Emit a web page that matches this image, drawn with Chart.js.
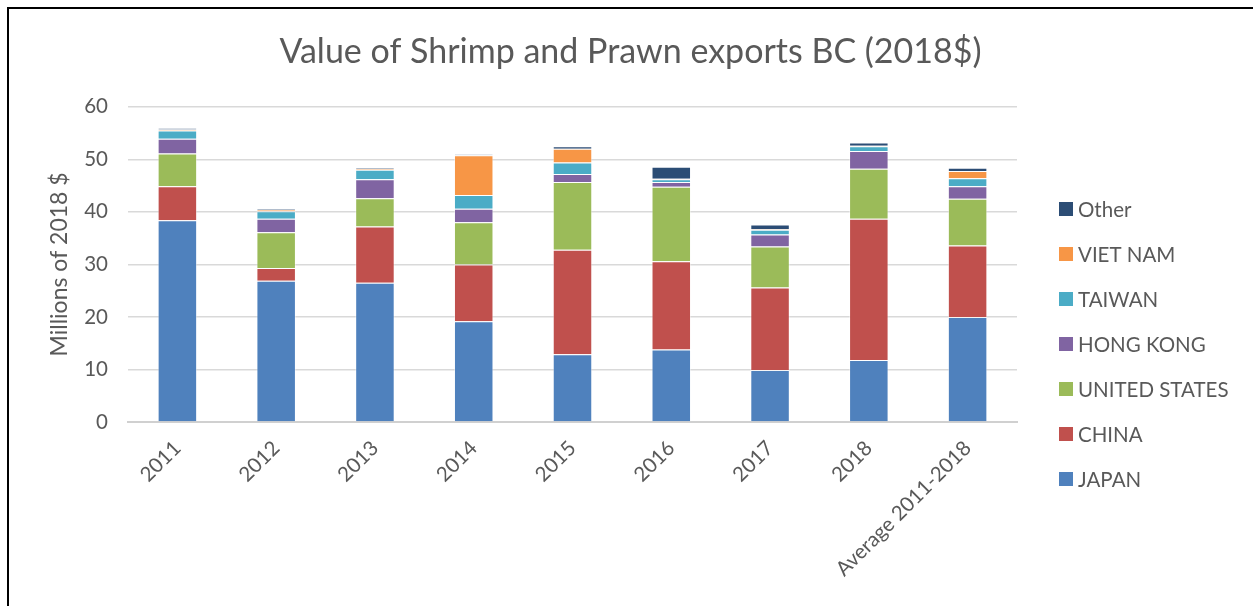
<!DOCTYPE html>
<html>
<meta charset="utf-8">
<head>
    <title>Shrimp and Prawn exports BC</title>
    <script src="https://cdn.jsdelivr.net/npm/chart.js@4/dist/chart.umd.min.js"></script>
    <style>
    body {
        margin: 0;
        overflow: hidden;
        background: #fff;
    }
    .moldura {
        position: absolute;
        left: 7px;
        top: 7px;
        width: 1400px;
        height: 800px;
        border-left: 2px solid #000;
        border-top: 2px solid #000;
    }
    canvas {
        position: absolute;
        left: 0;
        top: 0;
    }
    </style>
</head>

<body>
    <div class="moldura"></div>
    <canvas id="exportacoes" width="1253" height="606"></canvas>

    <script>
        var anos = ['2011', '2012', '2013', '2014', '2015', '2016', '2017', '2018', 'Average 2011-2018'];

        // millions of 2018 dollars, per destination
        var japan = [38.4, 26.9, 26.5, 19.2, 12.9, 13.8, 9.9, 11.8, 20.0];
        var china = [6.5, 2.4, 10.7, 10.8, 19.9, 16.8, 15.7, 26.9, 13.6];
        var unitedStates = [6.2, 6.8, 5.4, 8.0, 12.9, 14.2, 7.8, 9.5, 8.9];
        var hongKong = [2.8, 2.6, 3.6, 2.6, 1.5, 0.9, 2.3, 3.4, 2.4];
        var taiwan = [1.6, 1.4, 1.8, 2.6, 2.2, 0.5, 0.9, 0.9, 1.5];
        var vietNam = [0.2, 0.3, 0.2, 7.6, 2.6, 0.1, 0.1, 0.1, 1.4];
        var other = [0.2, 0.2, 0.2, 0.1, 0.5, 2.3, 0.9, 0.6, 0.6];

        var yTicks = [0, 10, 20, 30, 40, 50, 60];

        var fonte = 'Lato, "Open Sans", sans-serif';
        var cinza = '#595959';

        function serie(nome, valores, cor) {
            return {
                label: nome,
                data: valores,
                backgroundColor: cor,
                borderColor: 'rgba(255,255,255,0.45)',
                borderWidth: 1,
                barPercentage: 0.4,
                categoryPercentage: 1.0
            };
        }

        var dados = {
            labels: anos,
            datasets: [
                serie('JAPAN', japan, '#4F81BD'),
                serie('CHINA', china, '#C0504D'),
                serie('UNITED STATES', unitedStates, '#9BBB59'),
                serie('HONG KONG', hongKong, '#8064A2'),
                serie('TAIWAN', taiwan, '#4BACC6'),
                serie('VIET NAM', vietNam, '#F79646'),
                serie('Other', other, '#2C4D75')
            ]
        };

        // legend on the right, top entry is the top of the stack
        var legendaLateral = {
            id: 'legendaLateral',
            afterDraw: function(chart) {
                var ctx = chart.ctx;
                var sets = chart.data.datasets;
                ctx.save();
                ctx.font = '20.5px ' + fonte;
                ctx.textBaseline = 'middle';
                ctx.textAlign = 'left';
                for (var i = 0; i < sets.length; i++) {
                    var ds = sets[sets.length - 1 - i];
                    var y = 209 + i * 45;
                    ctx.fillStyle = ds.backgroundColor;
                    ctx.fillRect(1059, y - 7, 14, 14);
                    ctx.fillStyle = cinza;
                    ctx.fillText(ds.label, 1078, y + 1);
                }
                ctx.restore();
            }
        };

        window.onload = function() {
            var ctx = document.getElementById('exportacoes').getContext('2d');
            window.myBar = new Chart(ctx, {
                type: 'bar',
                data: dados,
                plugins: [legendaLateral],
                options: {
                    responsive: false,
                    animation: false,
                    layout: {
                        padding: { left: 8, right: 0, top: 0, bottom: 0 }
                    },
                    plugins: {
                        legend: { display: false },
                        tooltip: { enabled: false },
                        title: {
                            display: true,
                            text: 'Value of Shrimp and Prawn exports BC (2018$)',
                            color: cinza,
                            font: { family: fonte, size: 34, weight: 'normal', lineHeight: 1.2 },
                            padding: { top: 32, bottom: 34 }
                        }
                    },
                    scales: {
                        x: {
                            stacked: true,
                            grid: { display: false },
                            border: { color: '#d0d0d0', width: 2 },
                            ticks: {
                                color: cinza,
                                font: { family: fonte, size: 20.5 },
                                minRotation: 45,
                                maxRotation: 45,
                                padding: 6
                            },
                            afterFit: function(scale) {
                                scale.height = 184;
                            }
                        },
                        y: {
                            stacked: true,
                            min: 0,
                            max: 60,
                            afterBuildTicks: function(scale) {
                                scale.ticks = yTicks.map(function(v) { return { value: v }; });
                            },
                            grid: { color: '#d9d9d9', lineWidth: 1.5, drawTicks: false },
                            border: { display: false },
                            ticks: {
                                color: cinza,
                                font: { family: fonte, size: 20.5 },
                                padding: 20
                            },
                            title: {
                                display: true,
                                text: 'Millions of 2018 $',
                                color: cinza,
                                font: { family: fonte, size: 23 },
                                padding: { top: 38, bottom: 0 }
                            },
                            afterFit: function(scale) {
                                scale.width = 120;
                            }
                        },
                        // empty axis that keeps room for the legend
                        espaco: {
                            position: 'right',
                            display: true,
                            grid: { display: false },
                            border: { display: false },
                            ticks: { display: false },
                            afterFit: function(scale) {
                                scale.width = 236;
                            }
                        }
                    }
                }
            });
        };
    </script>
</body>

</html>
